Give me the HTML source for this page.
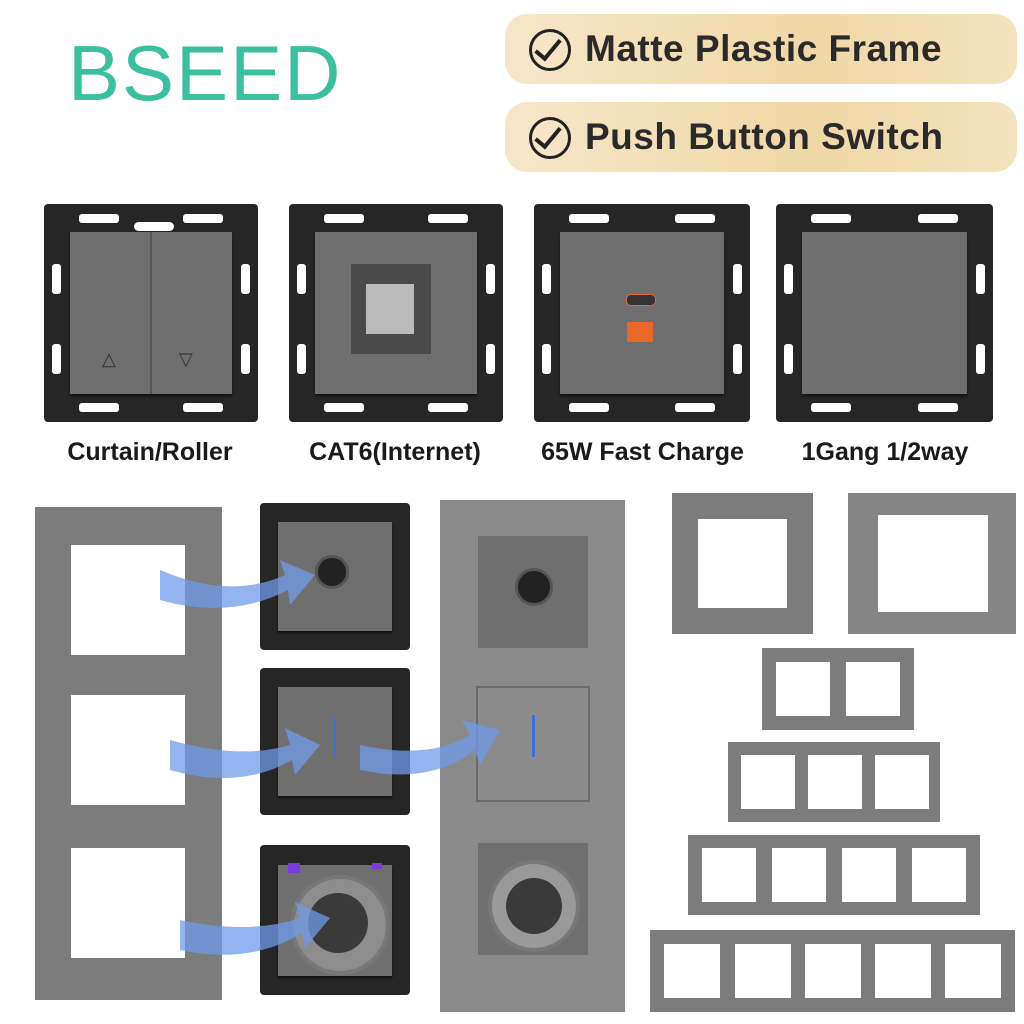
<!DOCTYPE html>
<html><head><style>
body{margin:0;width:1024px;height:1024px;background:#fff;position:relative;overflow:hidden;font-family:"Liberation Sans",sans-serif}
.a{position:absolute}
.pill{position:absolute;left:505px;width:512px;height:70px;border-radius:22px;background:linear-gradient(90deg,#f6e7c9,#f0d7a6 60%,#f4e2bd);font-weight:bold;font-size:37px;color:#2a2a2a;line-height:70px;box-sizing:border-box;padding-left:80px;letter-spacing:0.5px}
.chk{position:absolute;left:24px;top:15px;width:36px;height:36px;border:3px solid #222;border-radius:50%}
.chk:after{content:"";position:absolute;left:9px;top:2px;width:10px;height:22px;border-right:4px solid #222;border-bottom:4px solid #222;transform:rotate(40deg)}
.mod{position:absolute;background:#262626;border-radius:4px}
.mod .h{position:absolute;background:#fff;border-radius:3px}
.mod .g{position:absolute;left:12%;top:13%;right:12%;bottom:13%;background:#6f6f6f;box-shadow:0 2px 2px #111}
.lbl{position:absolute;font-size:25px;font-weight:bold;color:#1a1a1a;text-align:center;top:438px}
.fr{position:absolute;background:#7c7c7c}
.fr i{position:absolute;background:#fff}
</style></head><body>
<div class="a" style="left:68px;top:28px;font-size:78px;color:#3bbf9f;letter-spacing:2px;font-weight:normal">BSEED</div>
<div class="pill" style="top:14px"><div class="chk"></div>Matte Plastic Frame</div>
<div class="pill" style="top:102px"><div class="chk"></div>Push Button Switch</div>

<!-- top modules -->
<div class="mod" style="left:44px;top:204px;width:214px;height:218px"><div class="h" style="left:35px;top:10px;width:40px;height:9px"></div><div class="h" style="right:35px;top:10px;width:40px;height:9px"></div><div class="h" style="left:90px;top:18px;width:40px;height:9px;border-radius:5px"></div><div class="h" style="left:8px;top:60px;width:9px;height:30px"></div><div class="h" style="right:8px;top:60px;width:9px;height:30px"></div><div class="h" style="left:8px;top:140px;width:9px;height:30px"></div><div class="h" style="right:8px;top:140px;width:9px;height:30px"></div><div class="h" style="left:35px;bottom:10px;width:40px;height:9px"></div><div class="h" style="right:35px;bottom:10px;width:40px;height:9px"></div><div class="g" style="background:linear-gradient(90deg,#6f6f6f 49.5%,#555 49.5%,#555 50.5%,#6f6f6f 50.5%)"></div><div class="a" style="left:58px;top:145px;color:#333;font-size:18px">△</div><div class="a" style="left:135px;top:145px;color:#333;font-size:18px">▽</div></div>
<div class="mod" style="left:289px;top:204px;width:214px;height:218px"><div class="h" style="left:35px;top:10px;width:40px;height:9px"></div><div class="h" style="right:35px;top:10px;width:40px;height:9px"></div><div class="h" style="left:8px;top:60px;width:9px;height:30px"></div><div class="h" style="right:8px;top:60px;width:9px;height:30px"></div><div class="h" style="left:8px;top:140px;width:9px;height:30px"></div><div class="h" style="right:8px;top:140px;width:9px;height:30px"></div><div class="h" style="left:35px;bottom:10px;width:40px;height:9px"></div><div class="h" style="right:35px;bottom:10px;width:40px;height:9px"></div><div class="g"></div><div class="a" style="left:62px;top:60px;width:80px;height:90px;background:#4a4a4a"></div><div class="a" style="left:77px;top:80px;width:48px;height:50px;background:#bbb"></div></div>
<div class="mod" style="left:534px;top:204px;width:216px;height:218px"><div class="h" style="left:35px;top:10px;width:40px;height:9px"></div><div class="h" style="right:35px;top:10px;width:40px;height:9px"></div><div class="h" style="left:8px;top:60px;width:9px;height:30px"></div><div class="h" style="right:8px;top:60px;width:9px;height:30px"></div><div class="h" style="left:8px;top:140px;width:9px;height:30px"></div><div class="h" style="right:8px;top:140px;width:9px;height:30px"></div><div class="h" style="left:35px;bottom:10px;width:40px;height:9px"></div><div class="h" style="right:35px;bottom:10px;width:40px;height:9px"></div><div class="g"></div><div class="a" style="left:92px;top:90px;width:28px;height:10px;border-radius:5px;background:#333;border:1px solid #e76a2a"></div><div class="a" style="left:93px;top:118px;width:26px;height:20px;background:#e8692a"></div></div>
<div class="mod" style="left:776px;top:204px;width:217px;height:218px"><div class="h" style="left:35px;top:10px;width:40px;height:9px"></div><div class="h" style="right:35px;top:10px;width:40px;height:9px"></div><div class="h" style="left:8px;top:60px;width:9px;height:30px"></div><div class="h" style="right:8px;top:60px;width:9px;height:30px"></div><div class="h" style="left:8px;top:140px;width:9px;height:30px"></div><div class="h" style="right:8px;top:140px;width:9px;height:30px"></div><div class="h" style="left:35px;bottom:10px;width:40px;height:9px"></div><div class="h" style="right:35px;bottom:10px;width:40px;height:9px"></div><div class="g"></div></div>
<div class="lbl" style="left:30px;width:240px">Curtain/Roller</div>
<div class="lbl" style="left:275px;width:240px">CAT6(Internet)</div>
<div class="lbl" style="left:520px;width:245px">65W Fast Charge</div>
<div class="lbl" style="left:765px;width:240px">1Gang 1/2way</div>

<!-- left 3 gang frame -->
<div class="fr" style="left:35px;top:507px;width:187px;height:493px"><i style="left:36px;top:38px;width:114px;height:110px"></i><i style="left:36px;top:188px;width:114px;height:110px"></i><i style="left:36px;top:341px;width:114px;height:110px"></i></div>

<!-- small modules -->
<div class="mod" style="left:260px;top:503px;width:150px;height:147px"><div class="g"></div><div class="a" style="left:55px;top:52px;width:28px;height:28px;border-radius:50%;background:#222;border:3px solid #555"></div></div>
<div class="mod" style="left:260px;top:668px;width:150px;height:147px"><div class="g"></div><div class="a" style="left:73px;top:50px;width:3px;height:40px;background:#3a6fe0"></div></div>
<div class="mod" style="left:260px;top:845px;width:150px;height:150px"><div class="g"></div><div class="a" style="left:30px;top:30px;width:92px;height:92px;border-radius:50%;background:#8d8d8d;border:4px solid #777"></div><div class="a" style="left:48px;top:48px;width:60px;height:60px;border-radius:50%;background:#3a3a3a"></div><div class="a" style="left:28px;top:18px;width:12px;height:10px;background:#7a3bd8"></div><div class="a" style="left:112px;top:18px;width:10px;height:6px;background:#7a3bd8"></div></div>

<!-- vertical frame -->
<div class="fr" style="left:440px;top:500px;width:185px;height:512px;background:#8a8a8a"><div class="a" style="left:38px;top:36px;width:110px;height:112px;background:#6f6f6f"></div><div class="a" style="left:75px;top:68px;width:32px;height:32px;border-radius:50%;background:#222;border:3px solid #555"></div><div class="a" style="left:38px;top:188px;width:110px;height:112px;background:#8c8c8c;box-shadow:0 0 0 2px #6a6a6a"></div><div class="a" style="left:92px;top:215px;width:3px;height:42px;background:#3a6fe0"></div><div class="a" style="left:38px;top:343px;width:110px;height:112px;background:#6f6f6f"></div><div class="a" style="left:48px;top:360px;width:84px;height:84px;border-radius:50%;background:#999;border:4px solid #777"></div><div class="a" style="left:66px;top:378px;width:56px;height:56px;border-radius:50%;background:#3a3a3a"></div></div>

<!-- arrows -->
<svg class="a" style="left:0;top:0" width="1024" height="1024"><g fill="#6f9be8" opacity="0.75"><path d="M160 570 Q230 600 285 575 L280 560 L315 575 L290 605 L288 590 Q230 620 160 600Z"/><path d="M170 740 Q240 760 290 745 L285 728 L320 745 L295 775 L292 760 Q240 790 170 770Z"/><path d="M360 745 Q430 760 470 735 L462 720 L500 730 L480 765 L475 750 Q430 785 360 770Z"/><path d="M180 920 Q250 935 300 918 L295 902 L330 918 L305 948 L302 933 Q250 965 180 950Z"/></g></svg>

<!-- single frames -->
<div class="fr" style="left:672px;top:493px;width:141px;height:141px"><i style="left:26px;top:26px;width:89px;height:89px"></i></div>
<div class="fr" style="left:848px;top:493px;width:168px;height:141px;background:#858585"><i style="left:30px;top:22px;width:110px;height:97px"></i></div>
<div class="fr" style="left:762px;top:648px;width:152px;height:82px"><i style="left:14px;top:14px;width:54px;height:54px"></i><i style="left:84px;top:14px;width:54px;height:54px"></i></div>
<div class="fr" style="left:728px;top:742px;width:212px;height:80px"><i style="left:13px;top:13px;width:54px;height:54px"></i><i style="left:80px;top:13px;width:54px;height:54px"></i><i style="left:147px;top:13px;width:54px;height:54px"></i></div>
<div class="fr" style="left:688px;top:835px;width:292px;height:80px"><i style="left:14px;top:13px;width:54px;height:54px"></i><i style="left:84px;top:13px;width:54px;height:54px"></i><i style="left:154px;top:13px;width:54px;height:54px"></i><i style="left:224px;top:13px;width:54px;height:54px"></i></div>
<div class="fr" style="left:650px;top:930px;width:365px;height:82px"><i style="left:14px;top:14px;width:56px;height:54px"></i><i style="left:85px;top:14px;width:56px;height:54px"></i><i style="left:155px;top:14px;width:56px;height:54px"></i><i style="left:225px;top:14px;width:56px;height:54px"></i><i style="left:295px;top:14px;width:56px;height:54px"></i></div>
</body></html>
